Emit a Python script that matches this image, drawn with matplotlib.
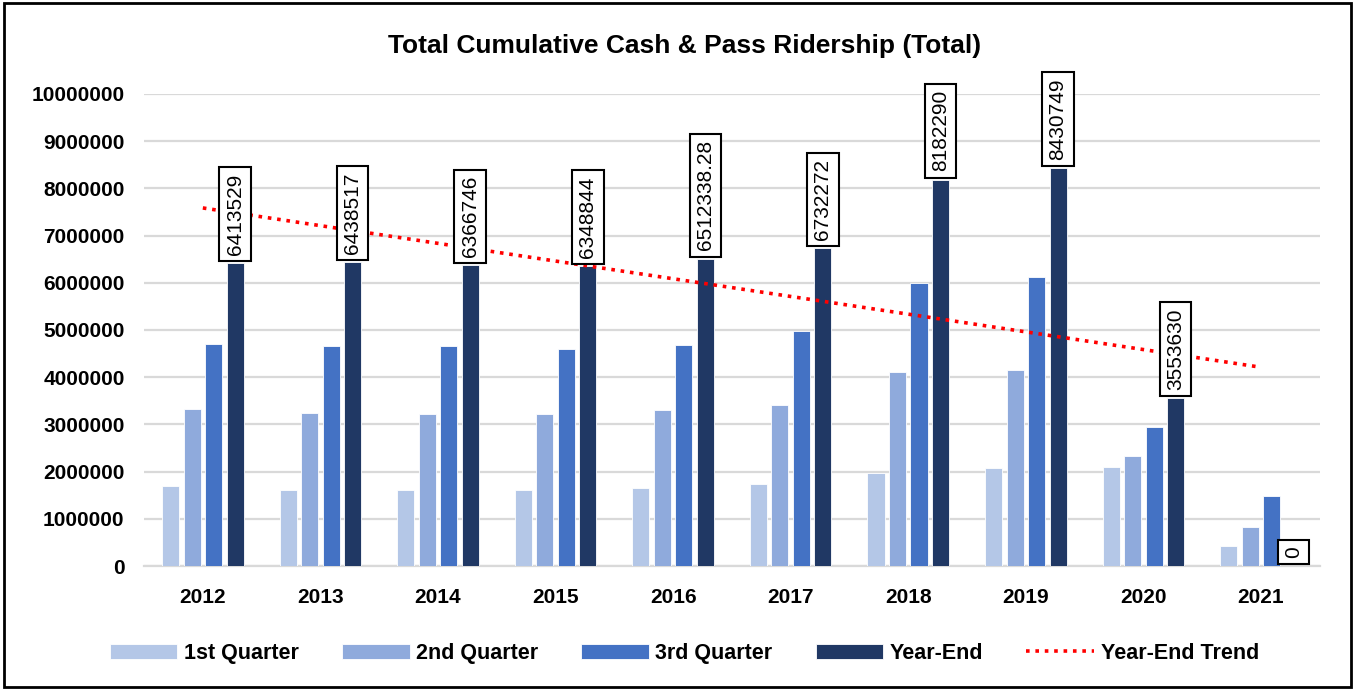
import numpy as np
import matplotlib
matplotlib.use('Agg')
from matplotlib import pyplot as plt
from matplotlib.patches import Rectangle

years = ['2012', '2013', '2014', '2015', '2016', '2017', '2018', '2019', '2020', '2021']
q1 = [1700000, 1620000, 1620000, 1600000, 1650000, 1740000, 1960000, 2070000, 2100000, 420000]
q2 = [3320000, 3250000, 3210000, 3210000, 3310000, 3420000, 4120000, 4160000, 2330000, 820000]
q3 = [4700000, 4670000, 4660000, 4590000, 4680000, 4970000, 6000000, 6130000, 2950000, 1480000]
year_end = [6413529, 6438517, 6366746, 6348844, 6512338.28, 6732272, 8182290, 8430749, 3553630, 0]
year_end_labels = ['6413529', '6438517', '6366746', '6348844', '6512338.28', '6732272',
                   '8182290', '8430749', '3553630', '0']

series_names = ['1st Quarter', '2nd Quarter', '3rd Quarter', 'Year-End']
colors = ['#b4c7e7', '#8faadc', '#4472c4', '#203864']

plt.rcParams['font.family'] = ['Liberation Sans', 'DejaVu Sans']

fig = plt.figure(figsize=(13.55, 6.9), dpi=100)
ax = fig.add_axes([0.1063, 0.1797, 0.8677, 0.6841])

x = np.arange(len(years))
step = 0.183
width = 0.145
handles = []
for i, (vals, name) in enumerate(zip([q1, q2, q3, year_end], series_names)):
    h = ax.bar(x + (i - 1.5) * step, vals, width, color=colors[i], label=name,
               edgecolor='white', linewidth=0.6, zorder=3)
    handles.append(h)

# labels on the year-end bars
for xi, v, lab in zip(x, year_end, year_end_labels):
    ax.annotate(lab, (xi + 1.5 * step, v), xytext=(0, 6), textcoords='offset points',
                rotation=90, ha='center', va='bottom', fontsize=15,
                bbox=dict(boxstyle='square,pad=0.3', fc='white', ec='black', lw=1.5),
                annotation_clip=False, zorder=6)

# linear trend of year-end values
coef = np.polyfit(x, year_end, 1)
trend, = ax.plot(x, np.polyval(coef, x), color='red', linestyle=(0, (1, 1.6)), linewidth=2.6,
                 label='Year-End Trend', zorder=5)
handles.append(trend)

ax.set_xlim(-0.5, 9.5)
ax.set_ylim(0, 10000000)
ax.set_yticks(np.arange(0, 10000001, 1000000))
ax.set_yticklabels([str(v) for v in range(0, 10000001, 1000000)])
ax.set_xticks(x)
ax.set_xticklabels(years)
ax.tick_params(axis='both', length=0, labelsize=15)
ax.tick_params(axis='x', pad=16)
ax.tick_params(axis='y', pad=14)
for lab in ax.get_xticklabels() + ax.get_yticklabels():
    lab.set_fontweight('bold')
ax.grid(axis='y', color='#d9d9d9', linewidth=1.6, zorder=0)
ax.set_axisbelow(True)
for s in ['top', 'right', 'left']:
    ax.spines[s].set_visible(False)
ax.spines['bottom'].set_color('#d9d9d9')
ax.spines['bottom'].set_linewidth(1.6)

fig.text(0.505, 0.933, 'Total Cumulative Cash & Pass Ridership (Total)', ha='center', va='center',
         fontsize=19, fontweight='bold')

leg = fig.legend(handles=handles, loc='center', bbox_to_anchor=(0.505, 0.053), ncol=5,
                 frameon=False, prop={'size': 15.5, 'weight': 'bold'}, handlelength=3.15,
                 handleheight=0.7, columnspacing=2.0, handletextpad=0.3)

fig.patches.append(Rectangle((0.003, 0.004), 0.994, 0.992, transform=fig.transFigure,
                             fill=False, ec='black', lw=2))

fig.savefig('out.png', dpi=100)
